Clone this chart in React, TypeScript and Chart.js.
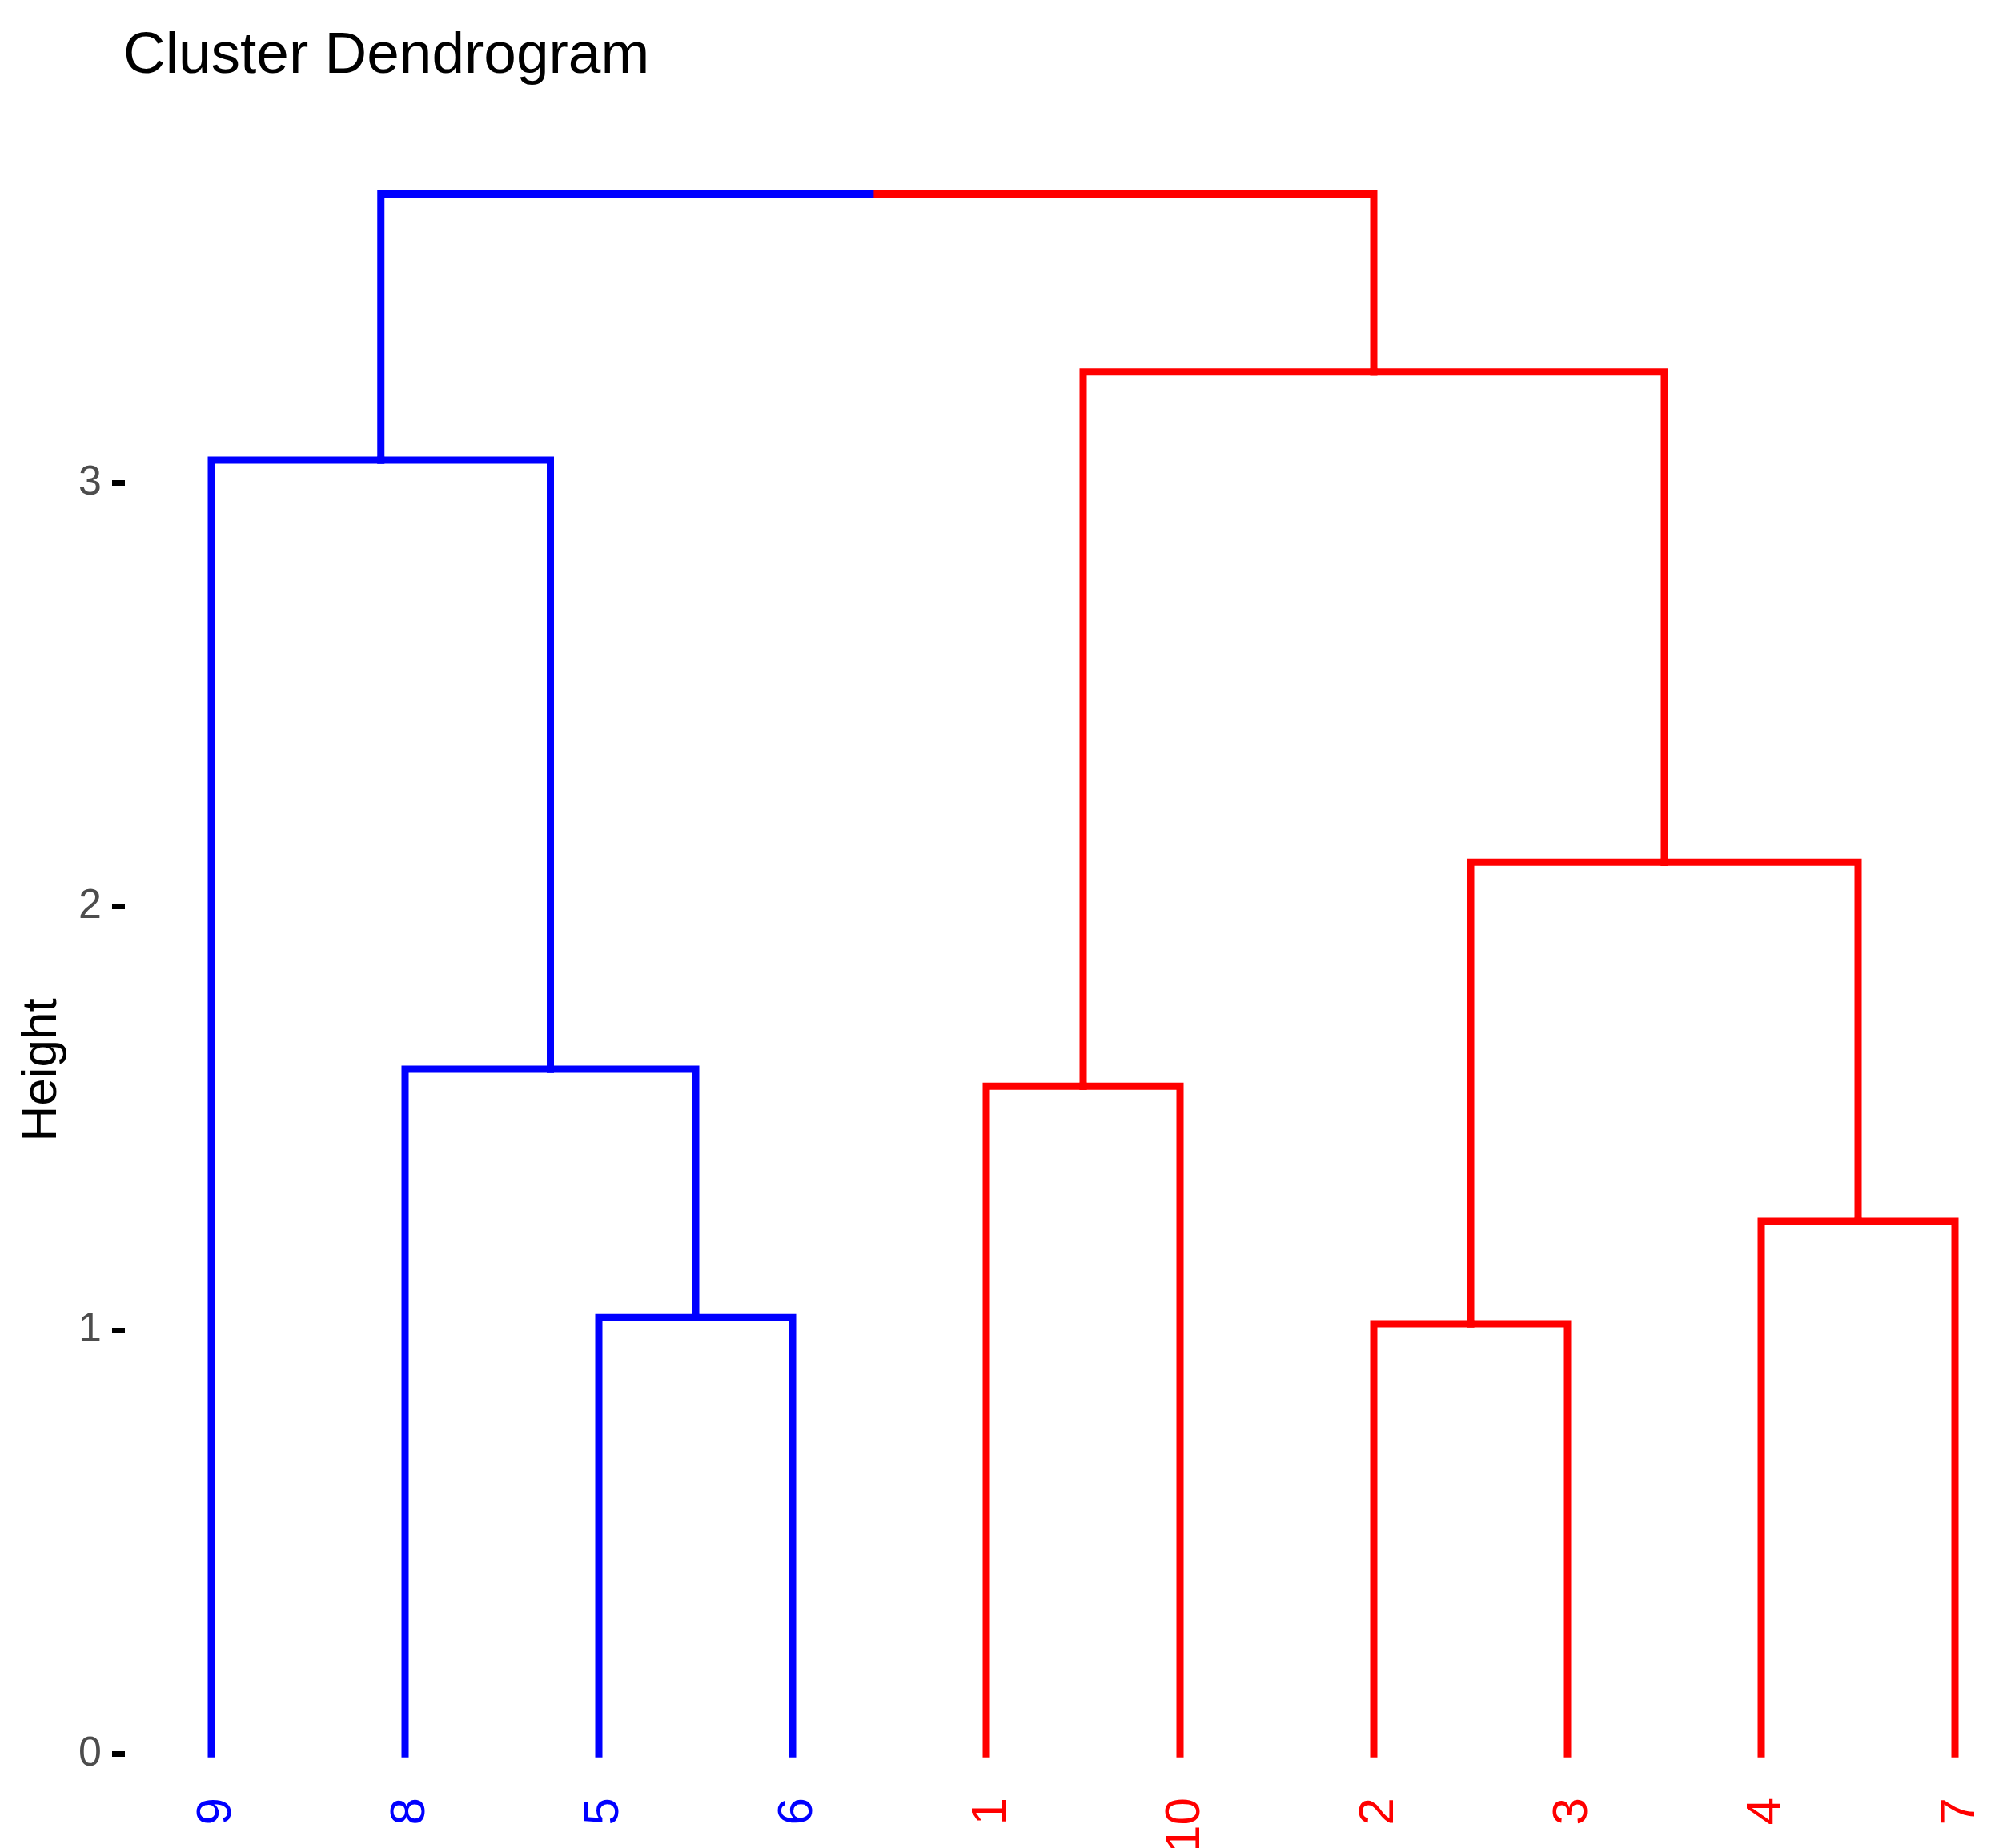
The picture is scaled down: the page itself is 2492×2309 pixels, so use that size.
import React, { useEffect, useRef } from "react";
import { Chart, registerables } from "chart.js";

Chart.register(...registerables);

// ---- data ----
const leafLabels = ["9", "8", "5", "6", "1", "10", "2", "3", "4", "7"];
const leafPositions = [1, 2, 3, 4, 5, 6, 7, 8, 9, 10];
const leafColors = ["#0000FF", "#0000FF", "#0000FF", "#0000FF", "#FF0000", "#FF0000", "#FF0000", "#FF0000", "#FF0000", "#FF0000"];
// merges (R hclust-style): negative = leaf position, positive = earlier merge (1-based)
const mergeLeft = [-7, -3, -9, -5, -2, 1, -1, 4, 7];
const mergeRight = [-8, -4, -10, -6, 2, 3, 5, 6, 8];
const mergeHeights = [1.015, 1.03, 1.257, 1.576, 1.616, 2.105, 3.054, 3.262, 3.682];
const yTickValues = [0, 1, 2, 3];

const TITLE = "Cluster Dendrogram";
const Y_TITLE = "Height";
const FONT = "'Liberation Sans', Arial, Helvetica, sans-serif";

const W = 2492;
const H = 2309;

type Node = { x: number; h: number; color: string };

function nodeInfo(ref: number, merges: Node[]): Node {
  if (ref < 0) {
    const i = -ref - 1;
    return { x: leafPositions[i], h: 0, color: leafColors[i] };
  }
  return merges[ref - 1];
}

function buildDatasets() {
  const merges: Node[] = [];
  const blue: any[] = [];
  const red: any[] = [];
  for (let m = 0; m < mergeHeights.length; m++) {
    const l = nodeInfo(mergeLeft[m], merges);
    const r = nodeInfo(mergeRight[m], merges);
    const h = mergeHeights[m];
    const x = (l.x + r.x) / 2;
    const color = l.color === r.color ? l.color : "mixed";
    merges.push({ x, h, color });
    for (const c of [l, r]) {
      const ds = {
        data: [
          { x: c.x, y: c.h },
          { x: c.x, y: h },
          { x, y: h },
        ],
        borderColor: c.color,
        backgroundColor: c.color,
        borderWidth: 9,
        borderCapStyle: "square",
        borderJoinStyle: "miter",
        pointRadius: 0,
        pointHoverRadius: 0,
        tension: 0,
        fill: false,
        clip: false,
      };
      if (c.color === "#0000FF") blue.push(ds);
      else red.push(ds);
    }
  }
  // Chart.js draws dataset 0 on top: red over blue at the root junction
  return [...red, ...blue];
}

const textPlugin = {
  id: "dendroText",
  afterDraw(chart: any) {
    const ctx = chart.ctx;
    ctx.save();
    ctx.fillStyle = "#000000";
    ctx.font = `73px ${FONT}`;
    ctx.textAlign = "left";
    ctx.textBaseline = "alphabetic";
    ctx.fillText(TITLE, 154, 91);
    ctx.translate(70, 1337);
    ctx.rotate(-Math.PI / 2);
    ctx.font = `62px ${FONT}`;
    ctx.textAlign = "center";
    ctx.fillText(Y_TITLE, 0, 0);
    ctx.restore();
  },
};

export default function App() {
  const ref = useRef<HTMLCanvasElement | null>(null);
  useEffect(() => {
    if (!ref.current) return;
    const chart = new Chart(ref.current, {
      type: "line",
      data: { datasets: buildDatasets() as any },
      options: {
        responsive: false,
        animation: false,
        devicePixelRatio: 1,
        layout: { padding: { top: 150, left: 0, right: 0, bottom: 0 } },
        plugins: {
          legend: { display: false },
          tooltip: { enabled: false },
          title: { display: false },
        },
        scales: {
          x: {
            type: "linear",
            min: 0.5537,
            max: 10.2066,
            grid: { display: false, drawTicks: false },
            border: { display: false },
            afterBuildTicks: (scale: any) => {
              scale.ticks = leafPositions.map((v) => ({ value: v }));
            },
            afterFit: (scale: any) => {
              scale.height = 94;
              scale.paddingLeft = 0;
              scale.paddingRight = 0;
            },
            ticks: {
              autoSkip: false,
              minRotation: 90,
              maxRotation: 90,
              padding: 31,
              labelOffset: 7,
              font: { family: FONT, size: 62, lineHeight: 1 },
              color: (ctx: any) => leafColors[ctx.index] || "#000",
              callback: (value: any) => {
                const i = leafPositions.indexOf(Number(value));
                return i >= 0 ? leafLabels[i] : "";
              },
            },
          },
          y: {
            type: "linear",
            min: -0.0448,
            max: 3.8568,
            border: { display: false },
            grid: {
              display: true,
              drawOnChartArea: false,
              drawTicks: true,
              tickLength: 16,
              tickWidth: 7,
              tickColor: "#000000",
            },
            afterBuildTicks: (scale: any) => {
              scale.ticks = yTickValues.map((v) => ({ value: v }));
            },
            afterFit: (scale: any) => {
              scale.width = 156;
              scale.paddingTop = 0;
              scale.paddingBottom = 0;
            },
            ticks: {
              padding: 13,
              color: "#4D4D4D",
              font: { family: FONT, size: 52 },
              callback: (value: any) => String(value),
            },
          },
        },
      },
      plugins: [textPlugin],
    });
    return () => chart.destroy();
  }, []);

  return (
    <div style={{ position: "fixed", left: 0, top: 0, width: W, height: H, background: "#ffffff" }}>
      <canvas ref={ref} width={W} height={H} style={{ width: W, height: H, display: "block" }} />
    </div>
  );
}
